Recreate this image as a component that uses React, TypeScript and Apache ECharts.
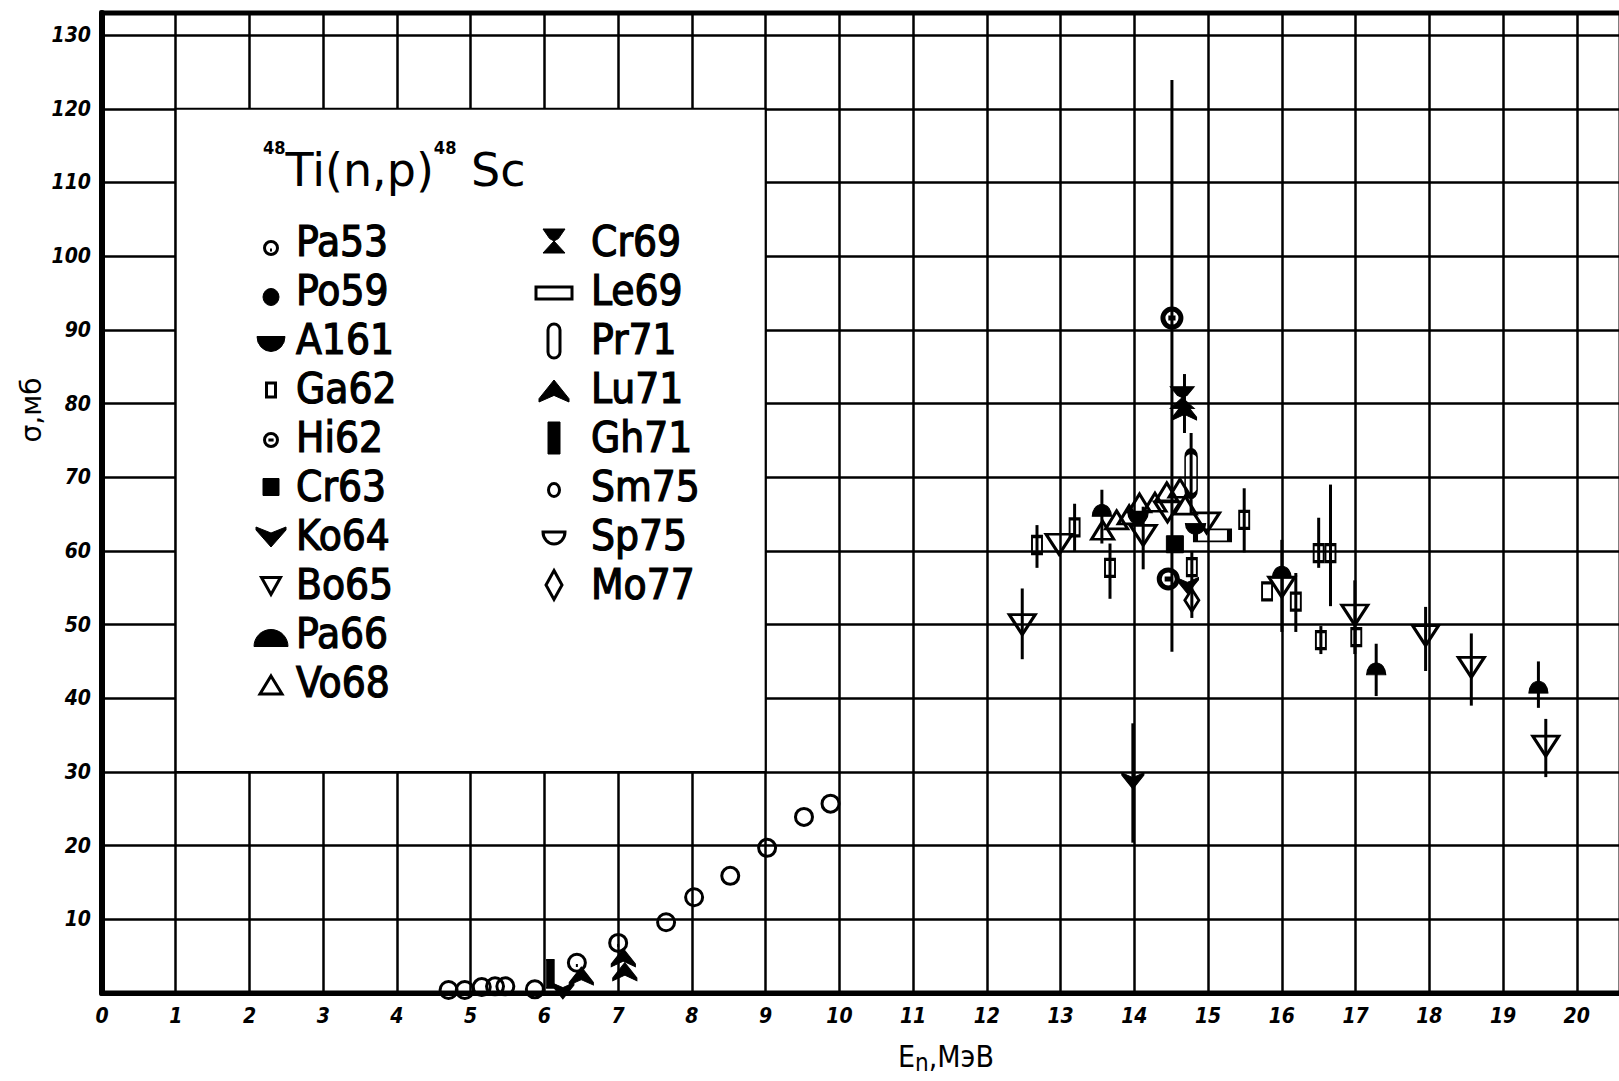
import React, { useEffect, useRef } from "react";
import * as echarts from "echarts";

// ---------- data ----------
const X_MIN = 0;
const X_MAX = 20.6;
const Y_MIN = 0;
const Y_MAX = 133;

const PA53 = [[6.44, 4.1], [7.0, 6.8]];
const PO59: number[][] = [];
const AL61 = [[14.05, 64.4], [14.83, 63.0]];
const GA62 = [
  [12.68, 60.8], [13.19, 63.2], [13.67, 57.7], [14.78, 57.8], [15.49, 64.2],
  [15.8, 54.5], [16.19, 53.1], [16.5, 59.7], [16.66, 59.7], [16.53, 47.9], [17.01, 48.3],
];
const HI62 = [[14.51, 91.6], [14.46, 56.2]];
const CR63 = [[14.55, 60.9]];
const KO64 = [[6.25, 0.3], [13.98, 28.8], [14.72, 55.3]];
const BO65 = [
  [12.48, 50.0], [12.98, 60.9], [14.12, 62.1], [14.45, 65.3], [14.98, 63.8],
  [16.0, 55.1], [16.99, 51.3], [17.95, 48.5], [18.57, 44.2], [19.58, 33.5],
];
const PA66 = [[13.56, 65.5], [16.0, 57.1], [17.28, 44.0], [19.48, 41.5]];
const VO68 = [
  [13.57, 62.8], [13.76, 64.2], [13.93, 64.9], [14.07, 66.5],
  [14.28, 66.6], [14.44, 68.0], [14.62, 68.5], [14.69, 66.2],
];
const CR69 = [[14.65, 80.8]];
const LE69 = [[15.06, 62.1]];
const PR71 = [[14.77, 70.5]];
const LU71 = [[6.5, 2.3], [7.07, 4.8], [7.09, 2.9], [14.68, 79.0]];
const GH71 = [[6.08, 2.6]];
const SM75 = [
  [4.7, 0.4], [4.92, 0.4], [5.15, 0.8], [5.33, 0.9], [5.47, 0.9], [5.87, 0.5],
  [7.65, 9.6], [8.03, 13.0], [8.52, 15.9], [9.02, 19.7], [9.52, 23.9], [9.88, 25.7],
];
const SP75: number[][] = [];
const MO77 = [[14.78, 53.3]];

// error bars: [x, low, high]
const ERRORS = [
  [12.48, 45.3, 54.9], [12.68, 57.7, 63.5], [13.19, 60.0, 66.4], [13.56, 61.0, 68.3],
  [13.67, 53.5, 61.0], [14.12, 57.5, 66.0], [14.51, 46.3, 123.9], [14.68, 76.0, 84.0],
  [14.77, 65.0, 76.0], [14.78, 50.9, 60.0], [15.49, 59.8, 68.5], [16.0, 49.0, 61.5],
  [16.19, 49.0, 57.0], [16.5, 57.7, 64.5], [16.66, 52.5, 69.0], [16.53, 46.0, 49.8],
  [16.99, 46.0, 56.0], [13.98, 20.4, 36.6], [17.28, 40.3, 47.4], [17.95, 43.7, 52.4],
  [18.57, 39.0, 48.8], [19.48, 38.7, 45.0], [19.58, 29.3, 37.2],
];

const NAMES = [
  "Pa53", "Po59", "Al61", "Ga62", "Hi62", "Cr63", "Ko64", "Bo65", "Pa66",
  "Vo68", "Cr69", "Le69", "Pr71", "Lu71", "Gh71", "Sm75", "Sp75", "Mo77",
];
const LEGEND_LABELS = [
  "Pa53", "Po59", "A161", "Ga62", "Hi62", "Cr63", "Ko64", "Bo65", "Pa66",
  "Vo68", "Cr69", "Le69", "Pr71", "Lu71", "Gh71", "Sm75", "Sp75", "Mo77",
];

const DATA: Record<string, number[][]> = {
  Pa53: PA53, Po59: PO59, Al61: AL61, Ga62: GA62, Hi62: HI62, Cr63: CR63,
  Ko64: KO64, Bo65: BO65, Pa66: PA66, Vo68: VO68, Cr69: CR69, Le69: LE69,
  Pr71: PR71, Lu71: LU71, Gh71: GH71, Sm75: SM75, Sp75: SP75, Mo77: MO77,
};

// ---------- styles ----------
type Sty = { kind: string; filled: boolean; leg: [number, number]; mark: [number, number]; lw?: number };
const STY: Record<string, Sty> = {
  Pa53: { kind: "circleDot", filled: false, leg: [13, 13], mark: [17, 17] },
  Po59: { kind: "circle", filled: true, leg: [16, 17], mark: [16, 16] },
  Al61: { kind: "halfDown", filled: true, leg: [28, 15], mark: [20, 11] },
  Ga62: { kind: "rect", filled: false, leg: [9, 14], mark: [10, 17], lw: 2.5 },
  Hi62: { kind: "circleBar", filled: false, leg: [13, 13], mark: [18, 18], lw: 5 },
  Cr63: { kind: "rect", filled: true, leg: [16, 17], mark: [17, 17] },
  Ko64: { kind: "chevDown", filled: true, leg: [30, 20], mark: [22, 16] },
  Bo65: { kind: "triDown", filled: false, leg: [19, 17], mark: [26, 20] },
  Pa66: { kind: "halfUp", filled: true, leg: [34, 17], mark: [19, 12] },
  Vo68: { kind: "triUp", filled: false, leg: [22, 18], mark: [22, 18] },
  Cr69: { kind: "bowtie", filled: true, leg: [22, 24], mark: [24, 22] },
  Le69: { kind: "rect", filled: false, leg: [36, 12], mark: [34, 12] },
  Pr71: { kind: "roundRect", filled: false, leg: [12, 34], mark: [12, 45] },
  Lu71: { kind: "chevUp", filled: true, leg: [30, 22], mark: [24, 18] },
  Gh71: { kind: "rect", filled: true, leg: [12, 32], mark: [8, 28] },
  Sm75: { kind: "circle", filled: false, leg: [11, 13], mark: [17, 17] },
  Sp75: { kind: "halfDown", filled: false, leg: [22, 12], mark: [20, 11] },
  Mo77: { kind: "diamond", filled: false, leg: [16, 29], mark: [14, 22] },
};

function shapePath(kind: string, w: number, h: number): string {
  const rx = w / 2;
  const ry = h / 2;
  const circ = `M0,${ry} A${rx},${ry} 0 1,1 ${w},${ry} A${rx},${ry} 0 1,1 0,${ry} Z`;
  switch (kind) {
    case "circle":
      return circ;
    case "circleDot":
      return `${circ} M${rx - 1},${h * 0.66} L${rx + 1},${h * 0.66}`;
    case "circleBar":
      return `${circ} M${w * 0.3},${ry} L${w * 0.7},${ry}`;
    case "halfDown":
      return `M0,0 L${w},0 A${rx},${h} 0 0,1 0,0 Z`;
    case "halfUp":
      return `M0,${h} A${rx},${h} 0 0,1 ${w},${h} Z`;
    case "rect":
      return `M0,0 L${w},0 L${w},${h} L0,${h} Z`;
    case "roundRect": {
      const r = Math.min(w, h) / 2;
      return `M${r},0 L${w - r},0 A${r},${r} 0 0,1 ${w},${r} L${w},${h - r} A${r},${r} 0 0,1 ${w - r},${h} L${r},${h} A${r},${r} 0 0,1 0,${h - r} L0,${r} A${r},${r} 0 0,1 ${r},0 Z`;
    }
    case "triDown":
      return `M0,0 L${w},0 L${rx},${h} Z`;
    case "triUp":
      return `M${rx},0 L${w},${h} L0,${h} Z`;
    case "chevDown":
      return `M0,0 L${rx},${h * 0.3} L${w},0 L${w},${h * 0.15} L${rx},${h} L0,${h * 0.15} Z`;
    case "chevUp":
      return `M${rx},0 L${w},${h * 0.85} L${w},${h} L${rx},${h * 0.7} L0,${h} L0,${h * 0.85} Z`;
    case "bowtie":
      return `M0,0 L${w},0 L${w * 0.7},${h * 0.4} L${rx},${ry} L${w},${h} L0,${h} L${rx},${ry} L${w * 0.3},${h * 0.4} Z`;
    case "diamond":
      return `M${rx},0 L${w},${ry} L${rx},${h} L0,${ry} Z`;
    default:
      return circ;
  }
}

// legend layout
const LEG_ROW0 = 241;
const LEG_STEP = 49;
const LEG_LEFT = { sym: 271, text: 296 };
const LEG_RIGHT = { sym: 554, text: 591 };
const LEG_DY: Record<string, number> = {
  Pa53: 7, Po59: 7, Al61: 5, Ga62: 2, Hi62: 3, Cr63: 1, Ko64: 2, Bo65: 2, Pa66: 5, Vo68: 3,
  Cr69: 0, Le69: 3, Pr71: 2, Lu71: 3, Gh71: 1, Sm75: 4, Sp75: 3, Mo77: 1,
};

let registered = false;
function registerLegendShapes() {
  if (registered) return;
  registered = true;
  NAMES.forEach((n) => {
    const s = STY[n];
    echarts.graphic.registerShape(
      "leg" + n,
      echarts.graphic.extendPath(shapePath(s.kind, s.leg[0], s.leg[1]), {}) as any
    );
  });
}

const FONT = "'DejaVu Sans Condensed', 'DejaVu Sans', sans-serif";

export default function App() {
  const ref = useRef<HTMLDivElement>(null);

  useEffect(() => {
    document.body.style.margin = "0";
    document.body.style.overflow = "hidden";
    registerLegendShapes();
    const chart = echarts.init(ref.current!, undefined, { renderer: "svg" });

    const scatterSeries: any[] = NAMES.map((n) => {
      const s = STY[n];
      const item: any = {
        name: n,
        type: "scatter",
        data: DATA[n],
        symbol: "path://" + shapePath(s.kind, s.mark[0], s.mark[1]),
        symbolSize: s.mark,
        z: 3,
        silent: true,
        itemStyle: s.filled
          ? { color: "#000", borderColor: "#000", borderWidth: 1, opacity: 1 }
          : { color: "rgba(0,0,0,0)", borderColor: "#000", borderWidth: s.lw ?? 3, opacity: 1 },
        emphasis: { disabled: true },
      };
      if (n === "Sm75") {
        item.markArea = {
          silent: true,
          label: { show: false },
          itemStyle: { color: "#fff", borderColor: "#000", borderWidth: 2 },
          data: [[{ xAxis: 1, yAxis: 30 }, { xAxis: 9, yAxis: 120 }]],
        };
      }
      return item;
    });

    const errSeries = {
      name: "errors",
      type: "custom",
      data: ERRORS,
      z: 2,
      silent: true,
      encode: { x: 0, y: [1, 2] },
      renderItem: (_p: any, api: any) => {
        const a = api.coord([api.value(0), api.value(1)]);
        const b = api.coord([api.value(0), api.value(2)]);
        return {
          type: "line",
          shape: { x1: a[0], y1: a[1], x2: b[0], y2: b[1] },
          style: { stroke: "#000", lineWidth: 3 },
        };
      },
    };

    const graphics: any[] = [];
    graphics.push({
      type: "text",
      x: 263,
      y: 170,
      z: 100,
      style: {
        text: "{sup|48}{m|Ti(n,p)}{sup|48}{m| Sc}",
        verticalAlign: "middle",
        align: "left",
        fill: "#000",
        rich: {
          m: { fontSize: 46, fontFamily: "'DejaVu Sans', sans-serif", lineHeight: 64, fill: "#000" },
          sup: { fontSize: 18, fontWeight: "bold", fontFamily: FONT, lineHeight: 22, verticalAlign: "top", fill: "#000" },
        },
      },
    });
    NAMES.forEach((n, i) => {
      const col = i < 10 ? LEG_LEFT : LEG_RIGHT;
      const row = i < 10 ? i : i - 10;
      const cy = LEG_ROW0 + LEG_STEP * row;
      const s = STY[n];
      graphics.push({
        type: "leg" + n,
        x: col.sym - s.leg[0] / 2,
        y: cy + LEG_DY[n] - s.leg[1] / 2,
        z: 100,
        silent: true,
        style: s.filled
          ? { fill: "#000", stroke: "#000", lineWidth: 1 }
          : { fill: "none", stroke: "#000", lineWidth: 3 },
      });
      graphics.push({
        type: "text",
        x: col.text,
        y: cy,
        z: 100,
        silent: true,
        style: {
          text: LEGEND_LABELS[i],
          fontSize: 42,
          fontWeight: "normal",
          fontFamily: FONT,
          fill: "#000",
          stroke: "#000",
          lineWidth: 1.2,
          align: "left",
          verticalAlign: "middle",
        },
      });
    });
    graphics.push({
      type: "text",
      x: 31,
      y: 410,
      rotation: Math.PI / 2,
      z: 100,
      style: {
        text: "σ,мб",
        fontSize: 28,
        fontFamily: "'DejaVu Sans', sans-serif",
        fill: "#000",
        align: "center",
        verticalAlign: "middle",
      },
    });
    graphics.push({
      type: "text",
      x: 898,
      y: 1056,
      z: 100,
      style: {
        text: "{a|E}{s|n}{a|,МэВ}",
        align: "left",
        verticalAlign: "middle",
        fill: "#000",
        rich: {
          a: { fontSize: 30, fontFamily: FONT, lineHeight: 38, fill: "#000" },
          s: { fontSize: 24, fontFamily: FONT, lineHeight: 22, verticalAlign: "bottom", fill: "#000" },
        },
      },
    });

    const labelStyle = {
      color: "#000",
      fontSize: 21,
      fontWeight: "bold" as const,
      fontStyle: "italic" as const,
      fontFamily: FONT,
    };

    chart.setOption({
      animation: false,
      backgroundColor: "#fff",
      grid: {
        left: 102,
        top: 13,
        width: 1519,
        height: 980,
        containLabel: false,
        outerBoundsMode: "none",
        show: true,
        borderColor: "#000",
        borderWidth: 5,
        backgroundColor: "transparent",
      },
      xAxis: {
        type: "value",
        min: X_MIN,
        max: X_MAX,
        interval: 1,
        axisLine: { show: true, onZero: false, lineStyle: { color: "#000", width: 5 } },
        axisTick: { show: false },
        splitLine: { show: true, lineStyle: { color: "#000", width: 2.5 } },
        axisLabel: { ...labelStyle, margin: 12, showMaxLabel: false, showMinLabel: true },
      },
      yAxis: {
        type: "value",
        min: Y_MIN,
        max: Y_MAX,
        interval: 10,
        axisLine: { show: true, onZero: false, lineStyle: { color: "#000", width: 6 } },
        axisTick: { show: false },
        splitLine: { show: true, lineStyle: { color: "#000", width: 2.5 } },
        axisLabel: { ...labelStyle, margin: 11, showMaxLabel: false, showMinLabel: false },
      },
      graphic: { elements: graphics },
      series: [errSeries, ...scatterSeries],
    });

    return () => {
      chart.dispose();
    };
  }, []);

  return <div ref={ref} style={{ width: 1619, height: 1081 }} />;
}
